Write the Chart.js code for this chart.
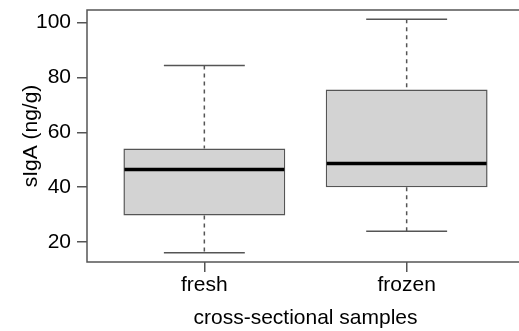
<!DOCTYPE html>
<html>
<head>
<meta charset="utf-8">
<script src="https://cdn.jsdelivr.net/npm/chart.js@4"></script>
<style>
  html, body { margin: 0; padding: 0; background: #fff; overflow: hidden; }
  canvas { display: block; }
</style>
</head>
<body>
<canvas id="box" width="530" height="331"></canvas>
<script>
// box plot values
const groups = ['fresh', 'frozen']
const whiskerLow = [16.1, 23.9]
const q1 = [29.7, 40.0]
const median = [46.4, 48.6]
const q3 = [54.1, 75.6]
const whiskerHigh = [84.4, 101.2]
const yTicks = [20, 40, 60, 80, 100]

const font = { family: '"Liberation Sans", Arial, sans-serif', size: 21 }
const ink = '#000'
const edge = '#555'

// whiskers, medians and the frame, placed with the chart's scales
const boxExtras = {
  id: 'boxExtras',
  beforeDatasetsDraw(chart) {
    const { ctx, scales: { x, y } } = chart
    const bar = chart.getDatasetMeta(0).data
    ctx.save()
    groups.forEach((g, i) => {
      const cx = x.getPixelForValue(i + 1)
      const half = bar[i].width / 4
      ctx.strokeStyle = edge
      ctx.lineWidth = 1.5
      ctx.setLineDash([4, 4])
      ctx.beginPath()
      ctx.moveTo(cx, y.getPixelForValue(whiskerHigh[i]))
      ctx.lineTo(cx, y.getPixelForValue(q3[i]))
      ctx.moveTo(cx, y.getPixelForValue(q1[i]))
      ctx.lineTo(cx, y.getPixelForValue(whiskerLow[i]))
      ctx.stroke()
      ctx.setLineDash([])
      ctx.beginPath()
      ctx.moveTo(cx - half, y.getPixelForValue(whiskerHigh[i]))
      ctx.lineTo(cx + half, y.getPixelForValue(whiskerHigh[i]))
      ctx.moveTo(cx - half, y.getPixelForValue(whiskerLow[i]))
      ctx.lineTo(cx + half, y.getPixelForValue(whiskerLow[i]))
      ctx.stroke()
    })
    ctx.restore()
  },
  afterDatasetsDraw(chart) {
    const { ctx, chartArea: a, scales: { x, y } } = chart
    const bar = chart.getDatasetMeta(0).data
    ctx.save()
    groups.forEach((g, i) => {
      const cx = x.getPixelForValue(i + 1)
      const half = bar[i].width / 2
      const my = y.getPixelForValue(median[i])
      ctx.strokeStyle = '#000'
      ctx.lineWidth = 3.5
      ctx.beginPath()
      ctx.moveTo(cx - half + 1, my)
      ctx.lineTo(cx + half - 1, my)
      ctx.stroke()
    })
    ctx.strokeStyle = edge
    ctx.lineWidth = 1.5
    ctx.strokeRect(a.left, a.top, a.right - a.left, a.bottom - a.top)
    ctx.restore()
  }
}

new Chart(document.getElementById('box'), {
  type: 'bar',
  data: {
    datasets: [{
      data: groups.map((g, i) => ({ x: i + 1, y: [q1[i], q3[i]] })),
      backgroundColor: '#d3d3d3',
      borderColor: edge,
      borderWidth: 1.5,
      borderSkipped: false,
      categoryPercentage: 1,
      barPercentage: 0.8
    }]
  },
  options: {
    responsive: false,
    devicePixelRatio: 1,
    animation: false,
    layout: { padding: { left: 0, right: 6, top: 10, bottom: 0 } },
    plugins: { legend: { display: false }, tooltip: { enabled: false } },
    scales: {
      x: {
        type: 'linear',
        min: 0.42,
        max: 2.58,
        offset: false,
        afterBuildTicks: s => { s.ticks = groups.map((g, i) => ({ value: i + 1 })) },
        afterFit: s => { s.height = 69; s.paddingLeft = 0; s.paddingRight = 0 },
        ticks: {
          callback: (v) => groups[v - 1],
          color: ink, font, padding: 1, maxRotation: 0, autoSkip: false
        },
        grid: { offset: false, drawOnChartArea: false, drawTicks: true, tickLength: 10, color: edge, lineWidth: 1.5 },
        border: { display: false },
        title: { display: true, text: 'cross-sectional samples', color: ink, font, padding: { top: 0, bottom: 0 } }
      },
      y: {
        min: 12.7,
        max: 104.6,
        afterBuildTicks: s => { s.ticks = yTicks.map(v => ({ value: v })) },
        afterFit: s => { s.width = 87; s.paddingTop = 0; s.paddingBottom = 0 },
        ticks: { color: ink, font, padding: 6 },
        grid: { drawOnChartArea: false, drawTicks: true, tickLength: 10, color: edge, lineWidth: 1.5 },
        border: { display: false },
        title: { display: true, text: 'sIgA (ng/g)', color: ink, font, padding: { top: 19, bottom: 0 } }
      }
    }
  },
  plugins: [boxExtras]
})
</script>
</body>
</html>
